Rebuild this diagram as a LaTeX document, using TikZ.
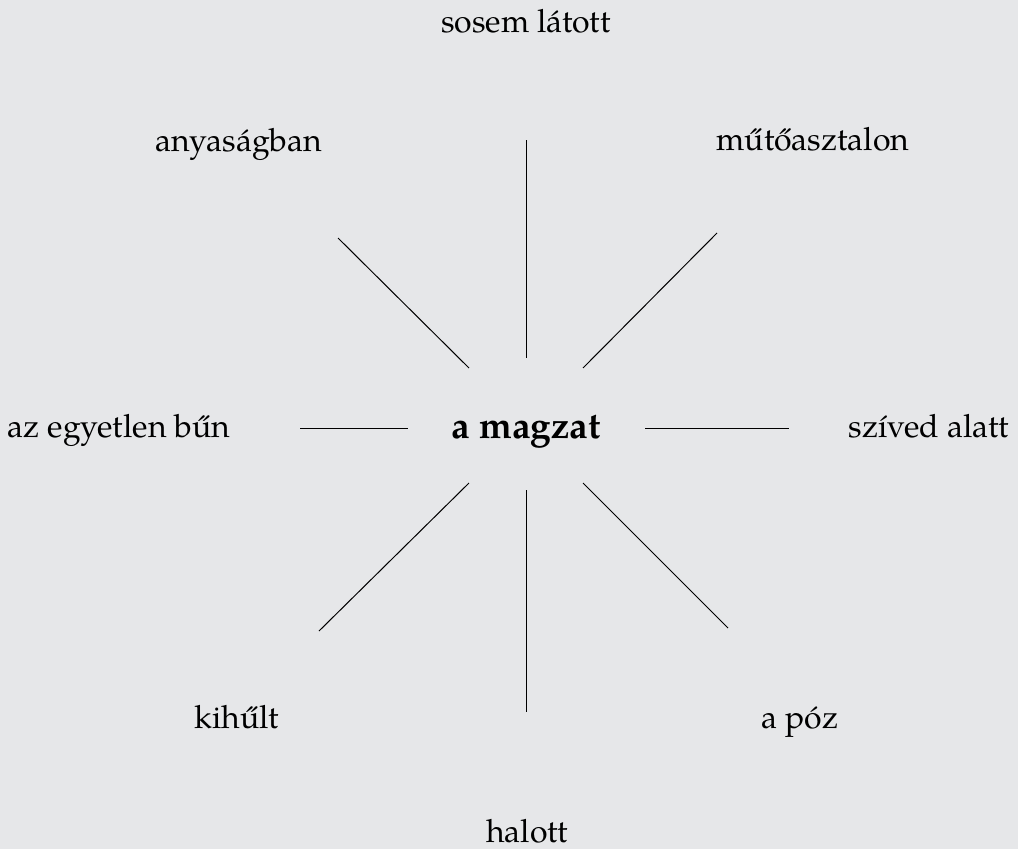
\documentclass[tikz,border=0pt]{standalone}
\usepackage{fontspec}
\setmainfont{TeX Gyre Pagella}
\definecolor{bg}{RGB}{230,231,233}
\begin{document}
\begin{tikzpicture}[x=1pt,y=-1pt,
  lbl/.style={anchor=base,inner sep=0pt,font=\fontsize{32}{38}\selectfont},
  ray/.style={line width=1pt,black}]
\fill[bg] (0,0) rectangle (1018,849);
\useasboundingbox (0,0) rectangle (1018,849);
\node[lbl] (top) at (526,32) {sosem látott};
\node[lbl] (nw) at (239,151) {anyaságban};
\node[lbl] (ne) at (813,150) {műtőasztalon};
\node[lbl] (w) at (119,437) {az egyetlen bűn};
\node[lbl,font=\fontsize{37}{44}\selectfont\bfseries] (c) at (526,438) {a magzat};
\node[lbl] (e) at (929,437) {szíved alatt};
\node[lbl] (sw) at (237,728) {kihűlt};
\node[lbl] (se) at (800,728) {a póz};
\node[lbl] (bot) at (527,842) {halott};
\coordinate (n1) at (526,140); \coordinate (n2) at (526,358);
\coordinate (nw1) at (338,238); \coordinate (nw2) at (469,368);
\coordinate (ne1) at (717,233); \coordinate (ne2) at (583,368);
\coordinate (w1) at (300,428); \coordinate (w2) at (408,428);
\coordinate (e1) at (645,428); \coordinate (e2) at (789,428);
\coordinate (sw1) at (469,483); \coordinate (sw2) at (319,631);
\coordinate (s1) at (526,490); \coordinate (s2) at (526,712);
\coordinate (se1) at (583,483); \coordinate (se2) at (728,628);
\draw[ray] (n1) -- (n2);
\draw[ray] (nw1) -- (nw2);
\draw[ray] (ne1) -- (ne2);
\draw[ray] (w1) -- (w2);
\draw[ray] (e1) -- (e2);
\draw[ray] (sw1) -- (sw2);
\draw[ray] (s1) -- (s2);
\draw[ray] (se1) -- (se2);
\end{tikzpicture}
\end{document}
